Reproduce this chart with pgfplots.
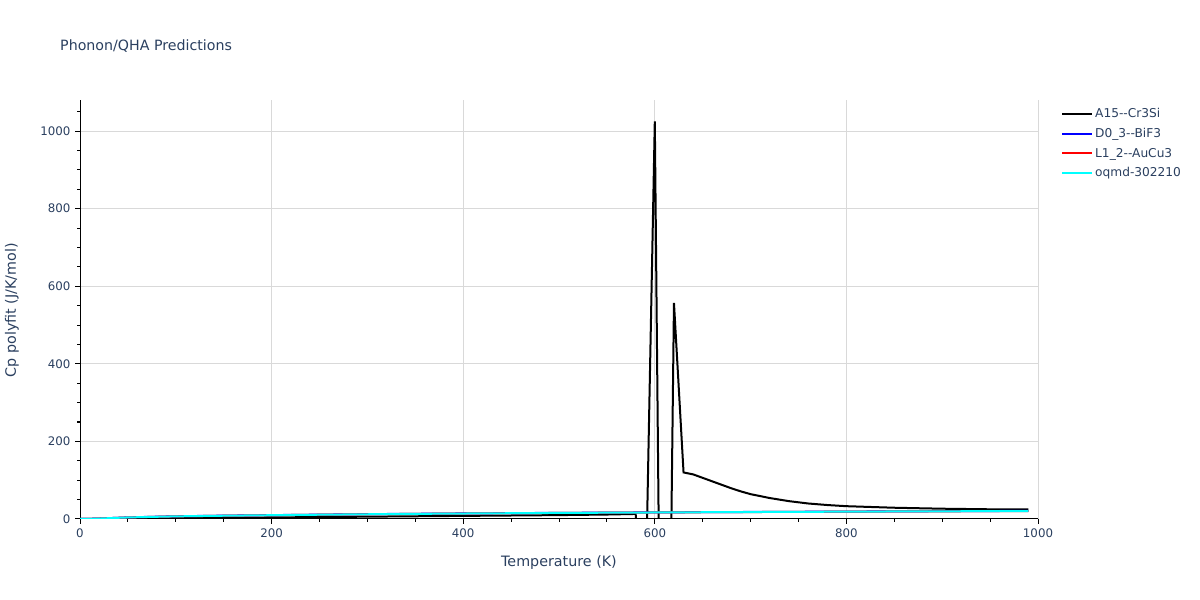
\documentclass[border=0pt]{standalone}
\usepackage{pgfplots}
\pgfplotsset{compat=1.18}
\usepackage{fontspec}
\setmainfont{DejaVu Sans}
\definecolor{txt}{HTML}{2A3F5F}
\definecolor{grd}{HTML}{D9D9D9}
\definecolor{cyanline}{HTML}{00FFFF}
\definecolor{blueline}{HTML}{0000FF}
\definecolor{redline}{HTML}{FF0000}

\pgfplotstableread{
T Cp
0 0
50 1
100 2
150 3
200 4
250 5
300 6
350 7
400 8
450 9
500 10
550 11.5
570 12.5
580 13
590 -256
600 1025
610 -1537
620 557
630 120
640 115
650 106
660 97
670 88
680 79
690 71
700 64
720 54
740 46
760 40
780 36
800 33
850 29
900 26.5
950 25
990 24.5
}\blackdata

\pgfplotstableread{
T Cp
0 0
10 0.4
20 1.2
30 2.2
40 3.2
50 4.2
75 5.6
100 7
150 8.6
200 10
250 11.2
300 12.5
350 13.4
400 14.3
450 15.1
500 15.8
550 16.4
600 17
650 17.6
700 18.1
750 18.6
800 19.1
850 19.6
900 20.1
950 20.5
990 20.9
}\bluedata

\pgfplotstableread{
T Cp
0 0
10 0.4
20 1.1
30 2.1
40 3.1
50 4
75 5.4
100 6.8
150 8.4
200 9.8
250 11
300 12.2
350 13.2
400 14.1
450 14.9
500 15.6
550 16.2
600 16.8
650 17.4
700 17.9
750 18.4
800 18.9
850 19.4
900 19.8
950 20.2
990 20.6
}\reddata

\pgfplotstableread{
T Cp
0 0
10 0.4
20 1.1
30 2.1
40 3.1
50 4
75 5.4
100 6.8
150 8.4
200 9.8
250 11
300 12.2
350 13.2
400 14.1
450 14.9
500 15.6
550 16.2
600 16.8
650 17.4
700 17.9
750 18.4
800 18.9
850 19.4
900 19.8
950 20.2
990 20.6
}\cyandata

\begin{document}
\begin{tikzpicture}
\path (0pt,0pt) rectangle (1200pt,600pt);
\begin{axis}[
    at={(80pt,81pt)}, anchor=south west,
    scale only axis,
    width=958pt, height=419pt,
    xmin=0, xmax=1000,
    ymin=0, ymax=1080,
    xtick={0,200,...,1000},
    ytick={0,200,...,1000},
    minor xtick={0,50,...,1000},
    minor ytick={0,50,...,1050},
    tick align=outside,
    major tick length=5pt,
    minor tick length=3pt,
    xmajorgrids, ymajorgrids,
    major grid style={grd, line width=1pt},
    axis x line*=bottom, axis y line*=left,
    axis line style={black, line width=1pt, -},
    tick style={black, line width=1pt},
    ticklabel style={font=\fontsize{11.8pt}{14pt}\selectfont, text=txt},
    /pgf/number format/assume math mode=true,
    /pgf/number format/set thousands separator={},
    xticklabel style={yshift=-1pt},
    yticklabel style={xshift=-1pt},
    clip=true,
    legend style={at={(1.024,0.985)}, anchor=north west, draw=none, fill=none,
        font=\fontsize{12.2pt}{14pt}\selectfont, text=txt,
        row sep=5pt, inner sep=0pt},
    legend cell align=left,
    legend image code/.code={\draw[#1, line width=2pt] (0pt,0pt) -- (30pt,0pt);},
]
\addplot[black, line width=2pt] table[x=T, y=Cp] {\blackdata};
\addplot[blueline, line width=2pt] table[x=T, y=Cp] {\bluedata};
\addplot[redline, line width=2pt] table[x=T, y=Cp] {\reddata};
\addplot[cyanline, line width=2pt] table[x=T, y=Cp] {\cyandata};
\legend{A15{-}{-}Cr3Si, D0\_3{-}{-}BiF3, L1\_2{-}{-}AuCu3, oqmd-302210}
\end{axis}
\node[anchor=base west, text=txt, font=\fontsize{14.2pt}{17pt}\selectfont, inner sep=0pt] at (60pt,549pt) {Phonon/QHA Predictions};
\node[text=txt, font=\fontsize{14.3pt}{17pt}\selectfont] at (559pt,37pt) {Temperature (K)};
\node[text=txt, font=\fontsize{14.3pt}{17pt}\selectfont, rotate=90] at (12pt,290pt) {Cp polyfit (J/K/mol)};
\end{tikzpicture}
\end{document}
